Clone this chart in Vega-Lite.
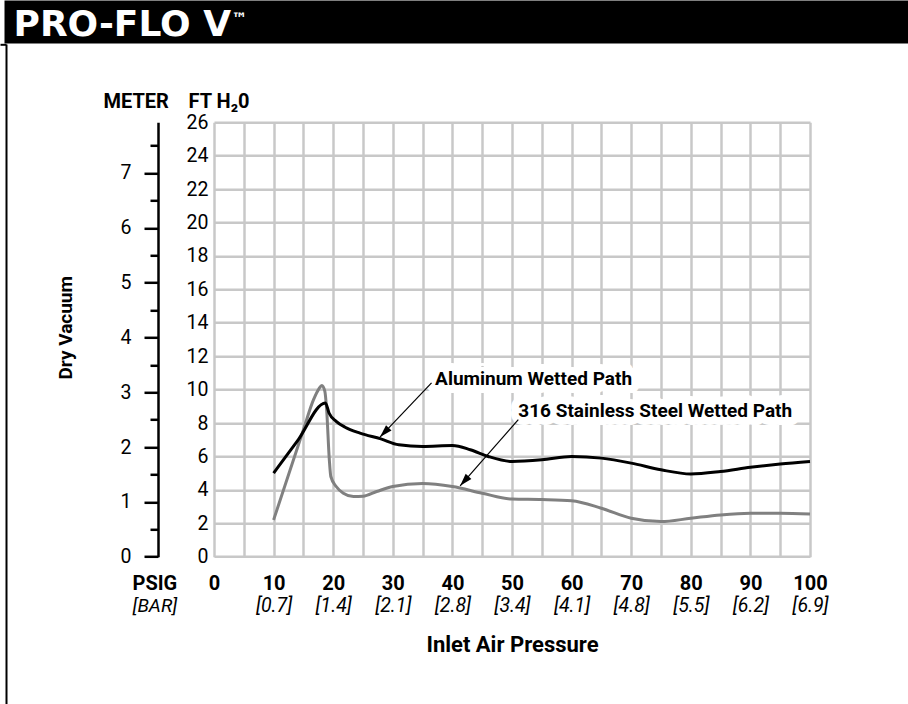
{
  "$schema": "https://vega.github.io/schema/vega-lite/v6.json",
  "autosize": {"type": "none"},
  "padding": {"left": 214, "top": 122.3, "right": 98, "bottom": 147.3},
  "width": 596,
  "height": 434.4,
  "background": "white",
  "config": {
    "view": {"stroke": null},
    "axis": {"labelColor": "black", "titleColor": "black"}
  },
  "datasets": {
    "curves": [
      {"series": "316 Stainless Steel Wetted Path", "psi": 10, "ft": 2.2},
      {"series": "316 Stainless Steel Wetted Path", "psi": 15, "ft": 7.6},
      {"series": "316 Stainless Steel Wetted Path", "psi": 16.7, "ft": 9.4},
      {"series": "316 Stainless Steel Wetted Path", "psi": 17.6, "ft": 10.05},
      {"series": "316 Stainless Steel Wetted Path", "psi": 18.1, "ft": 10.25},
      {"series": "316 Stainless Steel Wetted Path", "psi": 18.6, "ft": 9.9},
      {"series": "316 Stainless Steel Wetted Path", "psi": 18.9, "ft": 8.8},
      {"series": "316 Stainless Steel Wetted Path", "psi": 19.35, "ft": 5.8},
      {"series": "316 Stainless Steel Wetted Path", "psi": 19.6, "ft": 4.8},
      {"series": "316 Stainless Steel Wetted Path", "psi": 20.5, "ft": 4.2},
      {"series": "316 Stainless Steel Wetted Path", "psi": 21.7, "ft": 3.8},
      {"series": "316 Stainless Steel Wetted Path", "psi": 23.4, "ft": 3.6},
      {"series": "316 Stainless Steel Wetted Path", "psi": 25, "ft": 3.62},
      {"series": "316 Stainless Steel Wetted Path", "psi": 27.3, "ft": 3.9},
      {"series": "316 Stainless Steel Wetted Path", "psi": 30, "ft": 4.2},
      {"series": "316 Stainless Steel Wetted Path", "psi": 35, "ft": 4.38},
      {"series": "316 Stainless Steel Wetted Path", "psi": 40, "ft": 4.2},
      {"series": "316 Stainless Steel Wetted Path", "psi": 45, "ft": 3.8},
      {"series": "316 Stainless Steel Wetted Path", "psi": 50, "ft": 3.45},
      {"series": "316 Stainless Steel Wetted Path", "psi": 55, "ft": 3.42},
      {"series": "316 Stainless Steel Wetted Path", "psi": 60, "ft": 3.35},
      {"series": "316 Stainless Steel Wetted Path", "psi": 65, "ft": 2.9},
      {"series": "316 Stainless Steel Wetted Path", "psi": 70, "ft": 2.3},
      {"series": "316 Stainless Steel Wetted Path", "psi": 75, "ft": 2.1},
      {"series": "316 Stainless Steel Wetted Path", "psi": 80, "ft": 2.3},
      {"series": "316 Stainless Steel Wetted Path", "psi": 85, "ft": 2.5},
      {"series": "316 Stainless Steel Wetted Path", "psi": 90, "ft": 2.6},
      {"series": "316 Stainless Steel Wetted Path", "psi": 95, "ft": 2.6},
      {"series": "316 Stainless Steel Wetted Path", "psi": 100, "ft": 2.55},
      {"series": "Aluminum Wetted Path", "psi": 10, "ft": 5.0},
      {"series": "Aluminum Wetted Path", "psi": 14, "ft": 6.93},
      {"series": "Aluminum Wetted Path", "psi": 18.7, "ft": 9.2},
      {"series": "Aluminum Wetted Path", "psi": 19.3, "ft": 8.6},
      {"series": "Aluminum Wetted Path", "psi": 20.5, "ft": 8.1},
      {"series": "Aluminum Wetted Path", "psi": 22, "ft": 7.75},
      {"series": "Aluminum Wetted Path", "psi": 24.5, "ft": 7.4},
      {"series": "Aluminum Wetted Path", "psi": 28, "ft": 7.05},
      {"series": "Aluminum Wetted Path", "psi": 31, "ft": 6.7},
      {"series": "Aluminum Wetted Path", "psi": 35, "ft": 6.6},
      {"series": "Aluminum Wetted Path", "psi": 40, "ft": 6.65},
      {"series": "Aluminum Wetted Path", "psi": 43, "ft": 6.4},
      {"series": "Aluminum Wetted Path", "psi": 46, "ft": 6.0},
      {"series": "Aluminum Wetted Path", "psi": 50, "ft": 5.7},
      {"series": "Aluminum Wetted Path", "psi": 55, "ft": 5.8},
      {"series": "Aluminum Wetted Path", "psi": 60, "ft": 6.0},
      {"series": "Aluminum Wetted Path", "psi": 65, "ft": 5.9},
      {"series": "Aluminum Wetted Path", "psi": 70, "ft": 5.6},
      {"series": "Aluminum Wetted Path", "psi": 75, "ft": 5.2},
      {"series": "Aluminum Wetted Path", "psi": 80, "ft": 4.95},
      {"series": "Aluminum Wetted Path", "psi": 85, "ft": 5.1},
      {"series": "Aluminum Wetted Path", "psi": 90, "ft": 5.35},
      {"series": "Aluminum Wetted Path", "psi": 95, "ft": 5.55},
      {"series": "Aluminum Wetted Path", "psi": 100, "ft": 5.7}
    ],
    "labels": [
      {"series": "Aluminum Wetted Path", "psi": 37.1, "ft": 10.66},
      {"series": "316 Stainless Steel Wetted Path", "psi": 51.06, "ft": 8.74}
    ],
    "arrows": [
      {"series": "Aluminum Wetted Path", "psi": 36.5, "ft": 10.4, "psi2": 27.85, "ft2": 7.16},
      {"series": "316 Stainless Steel Wetted Path", "psi": 51.06, "ft": 8.2, "psi2": 41.3, "ft2": 4.24}
    ]
  },
  "layer": [
    {
      "data": {"name": "curves"},
      "mark": {"type": "line", "interpolate": "monotone", "strokeWidth": 3},
      "encoding": {
        "x": {
          "field": "psi", "type": "quantitative",
          "scale": {"domain": [0, 100], "nice": false, "zero": false},
          "axis": {
            "orient": "bottom",
            "values": [0,5,10,15,20,25,30,35,40,45,50,55,60,65,70,75,80,85,90,95,100],
            "labelExpr": "datum.value % 10 === 0 ? datum.label : ''",
            "grid": true, "gridColor": "#c8c8c8", "gridWidth": 2.5,
            "domain": false, "ticks": false,
            "labelFlush": false, "labelOverlap": false,
            "labelFont": "Roboto", "labelFontWeight": "bold", "labelFontSize": 20,
            "labelBaseline": "alphabetic", "labelPadding": 33,
            "title": "PSIG",
            "titleFont": "Roboto", "titleFontWeight": "bold", "titleFontSize": 20,
            "titleAlign": "left", "titleBaseline": "alphabetic", "titleAngle": 0,
            "titleX": -82, "titleY": 33
          }
        },
        "y": {
          "field": "ft", "type": "quantitative",
          "scale": {"domain": [0, 26], "nice": false},
          "axis": {
            "orient": "left",
            "values": [0,2,4,6,8,10,12,14,16,18,20,22,24,26],
            "grid": true, "gridColor": "#c8c8c8", "gridWidth": 2.5,
            "domain": false, "ticks": false,
            "labelFlush": false, "labelOverlap": false,
            "labelFont": "Roboto", "labelFontSize": 19.5, "labelPadding": 6,
            "title": "FT H₂0",
            "titleFont": "Roboto", "titleFontWeight": "bold", "titleFontSize": 20,
            "titleAngle": 0, "titleAlign": "left", "titleBaseline": "alphabetic",
            "titleX": -26, "titleY": -15
          }
        },
        "color": {
          "field": "series", "type": "nominal",
          "scale": {"domain": ["Aluminum Wetted Path", "316 Stainless Steel Wetted Path"], "range": ["#000000", "#808080"]},
          "legend": null
        }
      }
    },
    {
      "data": {"name": "labels"},
      "mark": {
        "type": "text", "align": "left", "baseline": "middle",
        "font": "Roboto", "fontWeight": "bold", "fontSize": 19,
        "fill": "white", "stroke": "white", "strokeWidth": 16, "strokeJoin": "round"
      },
      "encoding": {
        "x": {"field": "psi", "type": "quantitative", "scale": {"domain": [0, 100], "nice": false, "zero": false}, "axis": null},
        "y": {"field": "ft", "type": "quantitative", "scale": {"domain": [0, 26], "nice": false}, "axis": null},
        "text": {"field": "series"}
      }
    },
    {
      "data": {"name": "arrows"},
      "mark": {"type": "rule", "color": "black", "strokeWidth": 1.2},
      "encoding": {
        "x": {"field": "psi", "type": "quantitative", "scale": {"domain": [0, 100], "nice": false, "zero": false}, "axis": null},
        "y": {"field": "ft", "type": "quantitative", "scale": {"domain": [0, 26], "nice": false}, "axis": null},
        "x2": {"field": "psi2"},
        "y2": {"field": "ft2"}
      }
    },
    {
      "data": {"name": "arrows"},
      "transform": [{"filter": "datum.series === 'Aluminum Wetted Path'"}],
      "mark": {"type": "point", "shape": "M0,0L0.6,2L-0.6,2Z", "filled": true, "color": "black", "opacity": 1, "size": 160, "angle": 224},
      "encoding": {
        "x": {"field": "psi2", "type": "quantitative", "scale": {"domain": [0, 100], "nice": false, "zero": false}, "axis": null},
        "y": {"field": "ft2", "type": "quantitative", "scale": {"domain": [0, 26], "nice": false}, "axis": null}
      }
    },
    {
      "data": {"name": "arrows"},
      "transform": [{"filter": "datum.series === '316 Stainless Steel Wetted Path'"}],
      "mark": {"type": "point", "shape": "M0,0L0.6,2L-0.6,2Z", "filled": true, "color": "black", "opacity": 1, "size": 160, "angle": 221.5},
      "encoding": {
        "x": {"field": "psi2", "type": "quantitative", "scale": {"domain": [0, 100], "nice": false, "zero": false}, "axis": null},
        "y": {"field": "ft2", "type": "quantitative", "scale": {"domain": [0, 26], "nice": false}, "axis": null}
      }
    },
    {
      "data": {"name": "labels"},
      "mark": {
        "type": "text", "align": "left", "baseline": "middle",
        "font": "Roboto", "fontWeight": "bold", "fontSize": 19, "color": "black"
      },
      "encoding": {
        "x": {"field": "psi", "type": "quantitative", "scale": {"domain": [0, 100], "nice": false, "zero": false}, "axis": null},
        "y": {"field": "ft", "type": "quantitative", "scale": {"domain": [0, 26], "nice": false}, "axis": null},
        "text": {"field": "series"}
      }
    },
    {
      "data": {"values": [{"psi": 0, "m": 0}, {"psi": 100, "m": 7.9248}]},
      "mark": {"type": "point", "size": 0, "opacity": 0},
      "encoding": {
        "x": {
          "field": "psi", "type": "quantitative",
          "scale": {"domain": [0, 100], "nice": false, "zero": false},
          "axis": {
            "orient": "bottom",
            "values": [10,20,30,40,50,60,70,80,90,100],
            "labelExpr": "'[' + format(datum.value * 0.0689476, '.1f') + ']'",
            "grid": false, "domain": false, "ticks": false,
            "labelFlush": false, "labelOverlap": false,
            "labelFont": "Roboto", "labelFontStyle": "italic", "labelFontSize": 19.5,
            "labelBaseline": "alphabetic", "labelPadding": 55,
            "title": "[BAR]",
            "titleFont": "Roboto", "titleFontStyle": "italic", "titleFontWeight": "normal", "titleFontSize": 19,
            "titleAlign": "left", "titleBaseline": "alphabetic", "titleAngle": 0,
            "titleX": -82, "titleY": 55
          }
        },
        "y": {
          "field": "m", "type": "quantitative",
          "scale": {"domain": [0, 7.9248], "nice": false},
          "axis": {
            "orient": "left",
            "offset": 56,
            "values": [0,0.5,1,1.5,2,2.5,3,3.5,4,4.5,5,5.5,6,6.5,7,7.5],
            "labelExpr": "datum.value % 1 === 0 ? format(datum.value, 'd') : ''",
            "grid": false,
            "domain": true, "domainColor": "black", "domainWidth": 2.5,
            "ticks": true, "tickColor": "black", "tickWidth": 2.5,
            "tickSize": {"condition": {"test": "datum.value % 1 === 0", "value": 14}, "value": 8},
            "labelFlush": false, "labelOverlap": false,
            "labelFont": "Roboto", "labelFontSize": 19.5, "labelPadding": 13,
            "title": "METER",
            "titleFont": "Roboto", "titleFontWeight": "bold", "titleFontSize": 20,
            "titleAngle": 0, "titleAlign": "left", "titleBaseline": "alphabetic",
            "titleX": -55, "titleY": -15
          }
        }
      }
    },
    {
      "data": {"values": [{"psi": 0, "b": 0}, {"psi": 100, "b": 1}]},
      "mark": {"type": "point", "size": 0, "opacity": 0},
      "encoding": {
        "x": {
          "field": "psi", "type": "quantitative",
          "scale": {"domain": [0, 100], "nice": false, "zero": false},
          "axis": {
            "orient": "bottom",
            "labels": false, "grid": false, "domain": false, "ticks": false,
            "title": "Inlet Air Pressure",
            "titleFont": "Roboto", "titleFontWeight": "bold", "titleFontSize": 22,
            "titleBaseline": "alphabetic", "titleY": 95
          }
        },
        "y": {
          "field": "b", "type": "quantitative",
          "scale": {"domain": [0, 1], "range": [581.7, -78.3], "nice": false, "zero": false},
          "axis": {
            "orient": "left",
            "offset": 208,
            "values": [1],
            "labels": false, "grid": false,
            "domain": true, "domainColor": "black", "domainWidth": 2,
            "ticks": true, "tickColor": "black", "tickWidth": 2, "tickSize": 6,
            "title": "Dry Vacuum",
            "titleFont": "Roboto", "titleFontWeight": "bold", "titleFontSize": 19,
            "titleAngle": -90, "titleAlign": "center", "titleBaseline": "middle",
            "titleX": 59, "titleY": 205
          }
        }
      }
    },
    {
      "data": {"values": [{"h": 0}, {"h": 1}]},
      "mark": {"type": "point", "size": 0, "opacity": 0},
      "encoding": {
        "x": {
          "field": "h", "type": "quantitative",
          "scale": {"domain": [0, 1], "range": [-210, 694], "nice": false, "zero": false},
          "axis": {
            "orient": "top",
            "offset": 100.8,
            "labels": false, "grid": false, "ticks": false,
            "domain": true, "domainColor": "black", "domainWidth": 43,
            "title": "PRO-FLO V",
            "titleFont": "DejaVu Sans", "titleFontWeight": "bold", "titleFontSize": 36,
            "titleColor": "white",
            "titleAngle": 0, "titleAlign": "left", "titleBaseline": "alphabetic",
            "titleX": -201, "titleY": 14
          }
        }
      }
    },
    {
      "data": {"values": [{"h": 0}, {"h": 1}]},
      "mark": {"type": "point", "size": 0, "opacity": 0},
      "encoding": {
        "x": {
          "field": "h", "type": "quantitative",
          "scale": {"domain": [0, 1], "range": [-210, 694], "nice": false, "zero": false},
          "axis": {
            "orient": "top",
            "offset": 100.8,
            "labels": false, "grid": false, "ticks": false, "domain": false,
            "title": "™",
            "titleFont": "DejaVu Sans", "titleFontWeight": "bold", "titleFontSize": 16,
            "titleColor": "white",
            "titleAngle": 0, "titleAlign": "left", "titleBaseline": "alphabetic",
            "titleX": 17, "titleY": 2
          }
        }
      }
    }
  ],
  "resolve": {
    "scale": {"x": "independent", "y": "independent"},
    "axis": {"x": "independent", "y": "independent"}
  }
}
